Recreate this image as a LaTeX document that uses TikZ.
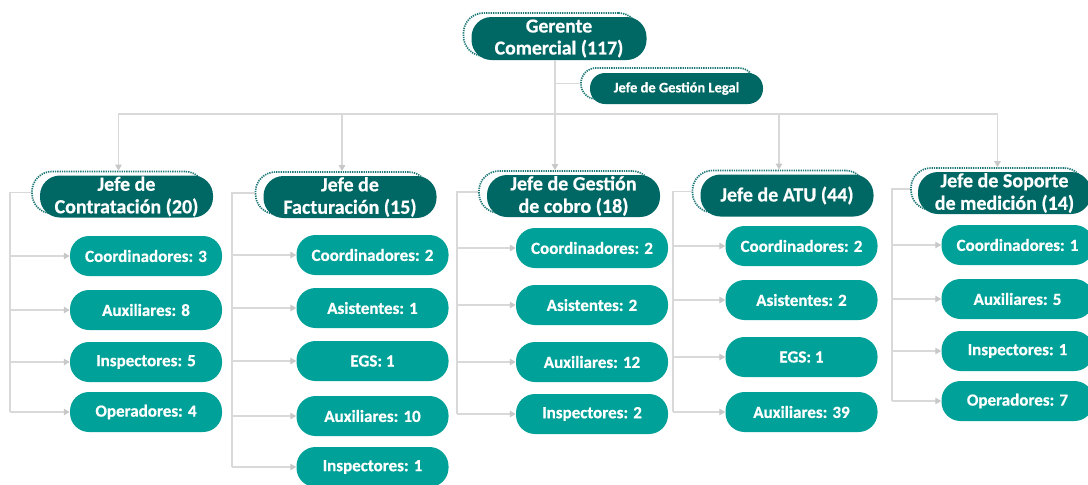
\documentclass[tikz,border=0pt]{standalone}
\usepackage{fontspec}
\setmainfont{Carlito}[BoldFeatures={FakeBold=0.6}]
\usetikzlibrary{arrows.meta}
\definecolor{headcol}{RGB}{0,104,100}
\definecolor{kidcol}{RGB}{0,161,152}
\definecolor{dotcol}{RGB}{30,120,118}
\definecolor{linecol}{RGB}{217,217,217}
\definecolor{tipcol}{RGB}{200,200,200}
\begin{document}
\begin{tikzpicture}[x=1pt,y=-1pt,
  frame/.style={draw=dotcol, line width=1.7pt, dash pattern=on 1.3pt off 1.0pt,
    rounded corners=20pt, minimum width=173pt, minimum height=42pt, inner sep=0pt},
  headbox/.style={fill=headcol, rounded corners=20pt, minimum width=173pt,
    minimum height=42pt, inner sep=0pt, text=white, align=center,
    font=\bfseries\fontsize{20}{22.5}\selectfont},
  kid/.style={fill=kidcol, rounded corners=19pt, minimum width=152pt,
    minimum height=40pt, inner sep=0pt, text=white,
    font=\bfseries\fontsize{17}{20}\selectfont},
  link/.style={draw=linecol, line width=1.1pt},
  arr/.style={link, -{Triangle[length=6pt,width=6.5pt,color=tipcol,fill=tipcol]}},
]
\useasboundingbox (0,0) rectangle (1088,485);
\clip (0,0) rectangle (1088,485);

% ---- top level
\node[frame, minimum width=175pt, minimum height=43pt] (fger) at (551,34.5) {};
\node[headbox, minimum width=175pt, minimum height=43pt,
  font=\bfseries\fontsize{19.8}{22}\selectfont] (ger) at (559,38.5) {Gerente\\Comercial (117)};
\node[frame, minimum height=31pt, rounded corners=15pt] (fleg) at (667.5,83.5) {};
\node[headbox, minimum height=31pt, rounded corners=15pt,
  font=\bfseries\fontsize{14.5}{16}\selectfont] (leg) at (676.5,88.5) {Jefe de Gestión Legal};

% ---- heads
\node[frame] (f1) at (118.5,192.5) {};
\node[headbox] (h1) at (126.5,196.5) {Jefe de\\Contratación (20)};
\node[frame] (f2) at (342,193) {};
\node[headbox] (h2) at (350,197) {Jefe de\\Facturación (15)};
\node[frame] (f3) at (565.5,192) {};
\node[headbox] (h3) at (573.5,196) {Jefe de Gestión\\de cobro (18)};
\node[frame] (f4) at (779,191.5) {};
\node[headbox] (h4) at (787,195.5) {Jefe de ATU (44)};
\node[frame] (f5) at (997.5,189) {};
\node[headbox] (h5) at (1004.5,193) {Jefe de Soporte\\de medición (14)};

% ---- children
\node[kid] (c11) at (146,256) {Coordinadores: 3};
\node[kid] (c12) at (146,310) {Auxiliares: 8};
\node[kid] (c13) at (146,362) {Inspectores: 5};
\node[kid] (c14) at (146,412) {Operadores: 4};

\node[kid] (c21) at (372.5,255) {Coordinadores: 2};
\node[kid] (c22) at (372.5,308) {Asistentes: 1};
\node[kid] (c23) at (372.5,361) {EGS: 1};
\node[kid] (c24) at (372.5,416) {Auxiliares: 10};
\node[kid] (c25) at (372.5,467) {Inspectores: 1};

\node[kid] (c31) at (592,248) {Coordinadores: 2};
\node[kid] (c32) at (592,305) {Asistentes: 2};
\node[kid] (c33) at (592,362) {Auxiliares: 12};
\node[kid] (c34) at (592,414) {Inspectores: 2};

\node[kid] (c41) at (801.5,246) {Coordinadores: 2};
\node[kid] (c42) at (801.5,300) {Asistentes: 2};
\node[kid] (c43) at (801.5,357) {EGS: 1};
\node[kid] (c44) at (801.5,412) {Auxiliares: 39};

\node[kid] (c51) at (1017.5,245) {Coordinadores: 1};
\node[kid] (c52) at (1017.5,299) {Auxiliares: 5};
\node[kid] (c53) at (1017.5,351) {Inspectores: 1};
\node[kid] (c54) at (1017.5,401) {Operadores: 7};

% ---- connectors from the manager
\coordinate (bus) at (555,114);
\draw[link] (ger.south -| bus) -- (bus);
\draw[link] (bus |- fleg.west) -- (fleg.west);
\draw[arr] (bus) -| (f1.north);
\draw[arr] (bus) -| (f2.north);
\draw[arr] (bus) -- (bus |- f3.north);
\draw[arr] (bus) -| (f4.north);
\draw[arr] (bus) -| (f5.north);

% ---- column rails
\coordinate (v1) at (10,0);
\coordinate (v2) at (232,0);
\coordinate (v3) at (457,0);
\coordinate (v4) at (673,0);
\coordinate (v5) at (892,0);

\draw[link] (f1.west) -| (v1 |- c14.west);
\foreach \k in {1,2,3,4} \draw[arr] (v1 |- c1\k.west) -- (c1\k.west);
\draw[link] (f2.west) -| (v2 |- c25.west);
\foreach \k in {1,2,3,4,5} \draw[arr] (v2 |- c2\k.west) -- (c2\k.west);
\draw[link] (f3.west) -| (v3 |- c34.west);
\foreach \k in {1,2,3,4} \draw[arr] (v3 |- c3\k.west) -- (c3\k.west);
\draw[link] (f4.west) -| (v4 |- c44.west);
\foreach \k in {1,2,3,4} \draw[arr] (v4 |- c4\k.west) -- (c4\k.west);
\draw[link] (f5.west) -| (v5 |- c54.west);
\foreach \k in {1,2,3,4} \draw[arr] (v5 |- c5\k.west) -- (c5\k.west);
\end{tikzpicture}
\end{document}
